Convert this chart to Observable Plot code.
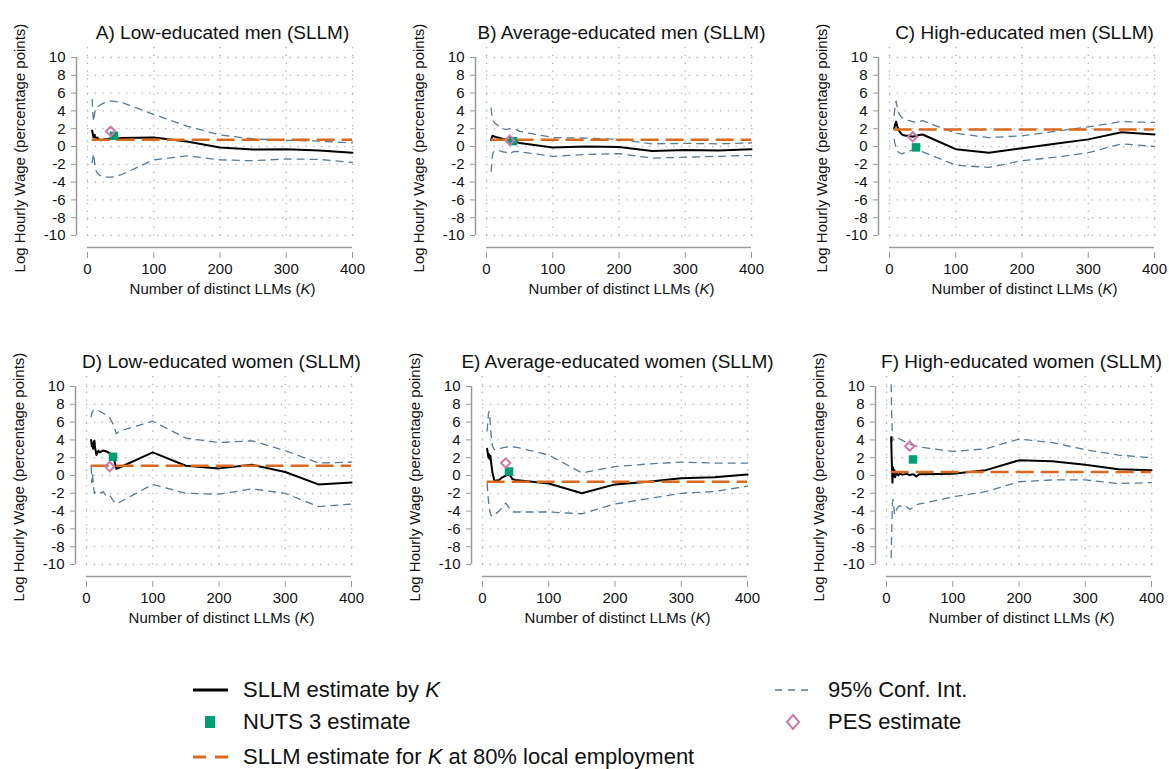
<!DOCTYPE html>
<html>
<head>
<meta charset="utf-8">
<script src="https://cdn.jsdelivr.net/npm/d3@7"></script>
<script src="https://cdn.jsdelivr.net/npm/@observablehq/plot@0.6"></script>
<style>
  body { margin: 0; background: #fff; overflow: hidden; font-family: "Liberation Sans", Arial, sans-serif; }
  #page { position: relative; width: 1169px; height: 769px; overflow: hidden; }
  .panel { position: absolute; width: 390px; height: 310px; }
  .panel svg { max-width: none !important; }
  .lg { position: absolute; height: 30px; line-height: 30px; font-size: 22px; color: #111; white-space: nowrap; }
  .sym { position: absolute; }
</style>
</head>
<body>
<div id="page">
  <svg class="sym" style="left:193px;top:680px" width="36" height="20"><line x1="0" x2="35" y1="10" y2="10" stroke="#000" stroke-width="3"/></svg>
  <div class="lg" style="left:243px;top:675px">SLLM estimate by <i>K</i></div>
  <svg class="sym" style="left:193px;top:712px" width="36" height="20"><rect x="12" y="4" width="10" height="12" fill="#009E73"/></svg>
  <div class="lg" style="left:243px;top:707px">NUTS 3 estimate</div>
  <svg class="sym" style="left:193px;top:747px" width="36" height="20"><line x1="0" x2="35" y1="10" y2="10" stroke="#d8691f" stroke-width="3" stroke-dasharray="13,9"/></svg>
  <div class="lg" style="left:243px;top:742px">SLLM estimate for <i>K</i> at 80% local employment</div>
  <svg class="sym" style="left:775px;top:680px" width="36" height="20"><line x1="0" x2="34" y1="10" y2="10" stroke="#5a7a94" stroke-width="1.5" stroke-dasharray="7,6"/></svg>
  <div class="lg" style="left:828px;top:675px">95% Conf. Int.</div>
  <svg class="sym" style="left:775px;top:712px" width="36" height="20"><path d="M18,3 L24,10 L18,17 L12,10 Z" fill="none" stroke="#CC79A7" stroke-width="2"/></svg>
  <div class="lg" style="left:828px;top:707px">PES estimate</div>
</div>
<script>
// shared grid of K values (number of local labour markets)
const kValues = [7, 8, 9, 10, 11, 12, 13, 15, 18, 20, 25, 30, 35, 40, 45, 50, 100, 150, 200, 250, 300, 350, 400];
const xTicks = [0, 100, 200, 300, 400];
const yTicks = [-10, -8, -6, -4, -2, 0, 2, 4, 6, 8, 10];

const titles = [
  "A) Low-educated men (SLLM)",
  "B) Average-educated men (SLLM)",
  "C) High-educated men (SLLM)",
  "D) Low-educated women (SLLM)",
  "E) Average-educated women (SLLM)",
  "F) High-educated women (SLLM)"
];
const yLabel = "Log Hourly Wage (percentage points)";
const xLabel = "Number of distinct LLMs (K)";

// SLLM estimate by K, and 95% bounds
const estA = [1.8, 1.4, 1.0, 1.2, 1.3, 1.0, 0.9, 1.0, 0.75, 0.7, 0.8, 0.85, 0.9, 0.9, 0.9, 0.95, 1.0, 0.55, -0.1, -0.35, -0.3, -0.45, -0.7];
const hiA  = [5.3, 4.0, 2.8, 3.3, 3.8, 4.1, 4.3, 4.4, 4.6, 4.7, 4.9, 5.0, 5.1, 5.1, 5.0, 5.0, 3.6, 2.3, 1.3, 0.85, 0.7, 0.6, 0.4];
const loA  = [-1.8, -1.3, -0.8, -1.4, -2.0, -2.4, -2.7, -3.0, -3.2, -3.3, -3.4, -3.45, -3.45, -3.4, -3.3, -3.2, -1.5, -1.05, -1.5, -1.6, -1.4, -1.45, -1.8];

const estB = [0.7, 1.0, 1.2, 1.2, 1.15, 1.1, 1.1, 1.05, 1.0, 0.95, 0.85, 0.75, 0.65, 0.6, 0.5, 0.4, -0.1, 0.0, -0.05, -0.5, -0.4, -0.45, -0.3];
const hiB  = [4.3, 3.6, 3.1, 2.9, 2.8, 2.7, 2.6, 2.5, 2.3, 2.2, 2.0, 1.9, 2.0, 2.0, 1.9, 1.7, 1.0, 0.95, 0.8, 0.3, 0.35, 0.3, 0.4];
const loB  = [-2.8, -1.8, -1.0, -0.7, -0.6, -0.55, -0.5, -0.5, -0.5, -0.5, -0.6, -0.65, -0.85, -0.6, -0.55, -0.6, -1.1, -0.9, -0.8, -1.3, -1.2, -1.1, -1.0];

const estC = [2.0, 2.3, 2.6, 2.8, 2.5, 2.2, 2.0, 1.7, 1.4, 1.3, 1.2, 1.2, 1.1, 1.2, 1.3, 1.35, -0.3, -0.7, -0.2, 0.3, 0.8, 1.6, 1.35];
const hiC  = [3.5, 4.2, 4.8, 5.1, 4.7, 4.3, 4.0, 3.6, 3.3, 3.2, 3.0, 2.9, 2.8, 2.7, 2.8, 2.9, 1.5, 1.0, 1.2, 1.7, 2.2, 2.8, 2.7];
const loC  = [0.8, 0.4, 0.1, -0.1, -0.3, -0.5, -0.6, -0.7, -0.8, -0.8, -0.6, -0.5, -0.4, -0.35, -0.5, -0.6, -2.1, -2.35, -1.6, -1.2, -0.7, 0.3, 0.0];

const estD = [4.0, 3.3, 3.6, 3.0, 3.8, 3.9, 3.1, 2.3, 2.8, 2.6, 2.8, 2.7, 2.5, 2.3, 0.75, 0.9, 2.6, 1.1, 0.8, 1.2, 0.4, -1.0, -0.8];
const hiD  = [6.6, 7.0, 7.2, 7.3, 7.4, 7.4, 7.4, 7.4, 7.3, 7.2, 7.0, 6.8, 6.5, 5.8, 4.7, 5.0, 6.1, 4.2, 3.7, 3.9, 2.8, 1.4, 1.5];
const loD  = [1.0, -0.8, 0.2, -0.6, -1.5, -2.0, -1.9, -1.8, -1.9, -2.0, -1.8, -2.3, -2.2, -2.8, -3.2, -3.0, -1.0, -2.0, -2.1, -1.5, -2.0, -3.5, -3.2];

const estE = [3.0, 2.5, 2.0, 2.4, 1.8, 2.2, 1.5, 0.3, -0.6, -0.6, -0.5, -0.2, 0.0, 0.2, -0.4, -0.5, -0.9, -2.0, -1.0, -0.7, -0.3, -0.2, 0.1];
const hiE  = [5.0, 6.0, 7.0, 7.2, 6.5, 5.5, 4.5, 3.3, 2.9, 2.9, 3.0, 3.1, 3.2, 3.2, 3.2, 3.2, 2.3, 0.3, 1.0, 1.3, 1.5, 1.4, 1.4];
const loE  = [-0.9, -2.0, -2.8, -3.5, -4.0, -4.3, -4.5, -4.6, -4.5, -4.3, -4.0, -3.6, -3.1, -3.6, -4.1, -4.1, -4.1, -4.3, -3.2, -2.6, -2.0, -1.8, -1.2];

const estF = [4.3, 1.5, -0.8, 0.9, -0.1, 0.6, -0.2, 0.3, 0.0, 0.2, 0.1, 0.2, 0.05, 0.15, -0.1, 0.15, 0.2, 0.6, 1.7, 1.6, 1.2, 0.7, 0.6];
const hiF  = [10.2, 6.5, 3.9, 4.2, 4.3, 4.3, 4.3, 4.3, 4.2, 4.1, 3.9, 3.7, 3.5, 3.4, 3.3, 3.2, 2.7, 3.0, 4.1, 3.7, 2.9, 2.3, 2.0];
const loF  = [-9.2, -6.0, -3.0, -2.7, -3.6, -4.2, -4.4, -3.8, -3.5, -3.4, -3.6, -3.5, -3.8, -3.6, -3.3, -3.2, -2.4, -1.8, -0.7, -0.5, -0.5, -0.9, -0.8];

// SLLM estimate at 80% local employment, NUTS 3 (K=40) and PES (K=35) estimates
const refEst  = [0.75, 0.75, 1.9, 1.1, -0.7, 0.4];
const nutsK = 40;
const nutsEst = [1.2, 0.6, -0.1, 2.1, 0.45, 1.8];
const pesK = 35;
const pesEst  = [1.7, 0.7, 1.1, 1.0, 1.4, 3.3];

const series = [
  [estA, loA, hiA], [estB, loB, hiB], [estC, loC, hiC],
  [estD, loD, hiD], [estE, loE, hiE], [estF, loF, hiF]
];

// where each panel sits on the page
const panelPos = [[0, 0], [399, 0], [802, 0], [-1, 329], [395, 329], [799, 329]];

const orange = "#d8691f", ciColor = "#5a7a94", green = "#009E73", pink = "#CC79A7";
const axisColor = "#9a9a9a", gridColor = "#b5b5b5";

const page = document.getElementById("page");

series.forEach(([est, lo, hi], p) => {
  const rows = kValues.map((k, i) => ({k, est: est[i], lo: lo[i], hi: hi[i]}));

  const chart = Plot.plot({
    width: 390,
    height: 310,
    marginLeft: 87,
    marginRight: 33,
    marginTop: 47,
    marginBottom: 70,
    style: {fontFamily: "'Liberation Sans', Arial, sans-serif", background: "transparent", overflow: "visible", maxWidth: "none"},
    x: {domain: [0, 400], insetRight: 5},
    y: {domain: [-10, 10], insetTop: 10, insetBottom: 5},
    marks: [
      Plot.gridY(yTicks, {stroke: gridColor, strokeOpacity: 1, strokeWidth: 1.3, strokeDasharray: "1.3,6.5"}),
      Plot.gridX(xTicks, {stroke: gridColor, strokeOpacity: 1, strokeWidth: 1.3, strokeDasharray: "1.3,6.5"}),
      Plot.ruleX([xTicks[0]], {y1: yTicks[0], y2: yTicks[yTicks.length - 1], dx: -11, stroke: axisColor, strokeWidth: 1.5}),
      Plot.ruleY([yTicks[0]], {x1: xTicks[0], x2: xTicks[xTicks.length - 1], dy: 12, stroke: axisColor, strokeWidth: 1.5}),
      Plot.axisY(yTicks, {anchor: "left", tickSize: 5, tickPadding: 6, dx: -11, stroke: axisColor, color: "#111",
        fontSize: 15, tickFormat: d => String(d), label: null}),
      Plot.axisX(xTicks, {anchor: "bottom", tickSize: 6, tickPadding: 5, dy: 12, stroke: axisColor, color: "#111",
        fontSize: 15, tickFormat: d => String(d), label: null}),
      Plot.lineY(rows, {x: "k", y: "hi", stroke: ciColor, strokeWidth: 1.3, strokeDasharray: "7,6"}),
      Plot.lineY(rows, {x: "k", y: "lo", stroke: ciColor, strokeWidth: 1.3, strokeDasharray: "7,6"}),
      Plot.lineY(rows, {x: "k", y: "est", stroke: "#000", strokeWidth: 2}),
      Plot.ruleY([refEst[p]], {x1: kValues[0], x2: kValues[kValues.length - 1], stroke: orange, strokeWidth: 2.5, strokeDasharray: "18,7"}),
      Plot.dot([{k: nutsK, v: nutsEst[p]}], {x: "k", y: "v", symbol: "square", fill: green, r: 4.8}),
      Plot.dot([{k: pesK, v: pesEst[p]}], {x: "k", y: "v", symbol: "diamond2", stroke: pink, fill: "none", strokeWidth: 2, r: 4.2}),
      Plot.text([titles[p]], {frameAnchor: "top", lineAnchor: "middle", dy: -15, fontSize: 19, fill: "#111"}),
      Plot.text([yLabel], {frameAnchor: "left", textAnchor: "middle", rotate: -90, dx: -67, dy: 4, fontSize: 15, fill: "#111"}),
      Plot.text([xLabel], {frameAnchor: "bottom", lineAnchor: "middle", dy: 49, fontSize: 15, fill: "#111"})
    ]
  });

  // italic K in the x label
  d3.select(chart).selectAll("text")
    .filter(function () { return this.textContent === xLabel; })
    .each(function () {
      const t = d3.select(this);
      t.text(null);
      t.append("tspan").text("Number of distinct LLMs (");
      t.append("tspan").attr("font-style", "italic").text("K");
      t.append("tspan").text(")");
    });

  const holder = document.createElement("div");
  holder.className = "panel";
  holder.style.left = panelPos[p][0] + "px";
  holder.style.top = panelPos[p][1] + "px";
  holder.appendChild(chart);
  page.appendChild(holder);
});
</script>
</body>
</html>
